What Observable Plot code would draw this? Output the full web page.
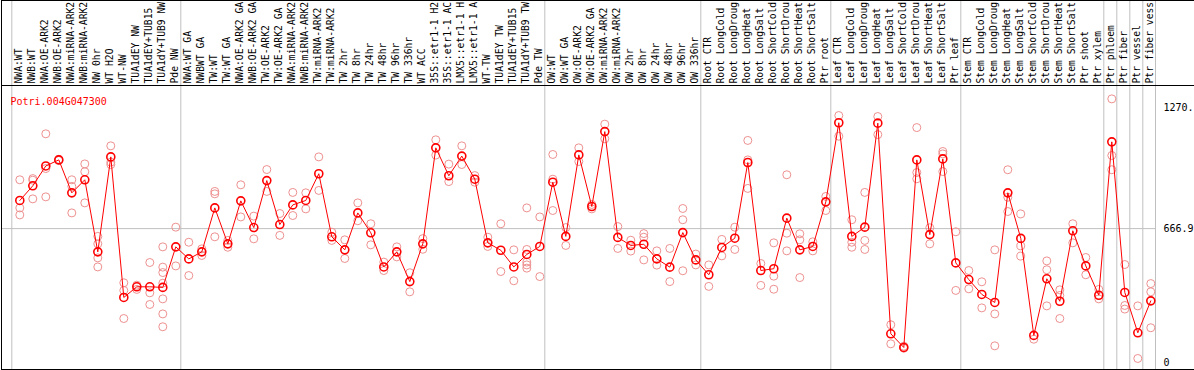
<!DOCTYPE html>
<html>
<head>
<meta charset="utf-8">
<script src="https://cdn.jsdelivr.net/npm/d3@7"></script>
<script src="https://cdn.jsdelivr.net/npm/@observablehq/plot@0.6"></script>
<style>
  html, body { margin: 0; padding: 0; background: white; }
  #chart svg { display: block; overflow: hidden; }
</style>
</head>
<body>
<div id="chart"></div>
<script>
const gene = "Potri.004G047300";

const samples = [
  "NWA:WT","NWB:WT","NWA:OE-ARK2","NWB:OE-ARK2","NWA:miRNA-ARK2","NWB:miRNA-ARK2","NW 0hr","WT H2O","WT-NW","TUA1dEY NW","TUA1dEY+TUB15 NW","TUA1dY+TUB9 NW","Pde NW",
  "NWA:WT GA","NWBWT GA","TW:WT","TW:WT GA","NWA:OE-ARK2 GA","NWB:OE-ARK2 GA","TW:OE-ARK2","TW:OE-ARK2 GA","NWA:miRNA-ARK2 GA","NWB:miRNA-ARK2 GA","TW:miRNA-ARK2","TW:miRNA-ARK2 GA","TW 2hr","TW 8hr","TW 24hr","TW 48hr","TW 96hr","TW 336hr","WT ACC","35S::etr1-1 H2O","35S::etr1-1 ACC","LMX5::etr1-1 H2O","LMX5::etr1-1 ACC","WT-TW","TUA1dEY TW","TUA1dEY+TUB15 TW","TUA1dY+TUB9 TW","Pde TW",
  "OW:WT","OW:WT GA","OW:OE-ARK2","OW:OE-ARK2 GA","OW:miRNA-ARK2","OW:miRNA-ARK2 GA","OW 2hr","OW 8hr","OW 24hr","OW 48hr","OW 96hr","OW 336hr",
  "Root CTR","Root LongCold","Root LongDrought","Root LongHeat","Root LongSalt","Root ShortCold","Root ShortDrought","Root ShortHeat","Root ShortSalt","Ptr root",
  "Leaf CTR","Leaf LongCold","Leaf LongDrought","Leaf LongHeat","Leaf LongSalt","Leaf ShortCold","Leaf ShortDrought","Leaf ShortHeat","Leaf ShortSalt","Ptr leaf",
  "Stem CTR","Stem LongCold","Stem LongDrought","Stem LongHeat","Stem LongSalt","Stem ShortCold","Stem ShortDrought","Stem ShortHeat","Stem ShortSalt","Ptr shoot","Ptr xylem",
  "Ptr phloem","Ptr fiber","Ptr vessel","Ptr fiber vessel"
];

// the header column shows at most this many characters of each sample name
const labelChars = 14;

// index of first sample in each group (group separators)
const groupStarts = [0, 13, 41, 53, 63, 73, 84, 85, 86, 87];

const means = [
  807, 880, 979, 1009, 845, 910, 551, 1024, 324, 377, 377, 374, 576,
  516, 551, 770, 591, 805, 672, 906, 687, 785, 807, 940, 626, 561, 745, 646, 476, 551, 403, 591, 1069, 930, 1028, 913, 596, 559, 476, 538, 578,
  898, 628, 1034, 777, 1150, 623, 583, 589, 516, 475, 647, 511,
  437, 573, 619, 996, 458, 467, 719, 561, 578, 800,
  1194, 628, 674, 1192, 143, 75, 1009, 637, 1014, 496,
  413, 339, 299, 845, 618, 135, 417, 305, 656, 481, 335,
  1099, 349, 148, 307
];

const replicates = [
  [910, 770, 735], [916, 815, 908], [1139, 966, 825], [1012, 1006], [910, 877, 745], [989, 950, 795],
  [628, 591, 521, 476], [1079, 998, 986], [397, 359, 219], [385, 364], [498, 347, 289],
  [576, 475, 448, 395, 317, 242, 178], [674, 481],
  [599, 433], [566, 533], [852, 840, 626], [608, 574], [885, 725], [729, 616], [961, 852], [742, 633],
  [847, 732], [845, 765], [1024, 857], [649, 608], [611, 518], [795, 706], [691, 586], [500, 458],
  [576, 526], [447, 352], [617, 564], [1109, 1033], [988, 901], [1079, 986], [931, 898], [624, 578],
  [691, 453], [561, 407], [770, 563, 500, 486, 470], [725, 428],
  [1036, 913, 757], [672, 583], [1069, 1001], [787, 765], [1187, 1114], [677, 568], [609, 555],
  [642, 624, 511], [556, 485], [568, 403], [767, 711, 457], [540, 486],
  [486, 379], [613, 531], [674, 563], [1106, 1009, 867], [493, 384], [596, 430, 365], [935, 644, 556],
  [641, 611, 423], [601, 556], [827, 757],
  [1230, 1127], [711, 599, 574], [847, 608, 563], [1225, 1135], [188, 93], [81, 71], [1170, 946, 915],
  [671, 591], [1051, 1039, 951], [651, 359],
  [458, 367], [402, 272], [561, 242, 83], [960, 823, 752], [740, 581, 530], [116], [506, 462, 282],
  [362, 334, 219], [691, 596], [523, 437], [364, 317],
  [1313, 1031, 960], [488, 284, 266], [282, 20], [393, 352, 173]
];

const yTickValues = [1270, 666.9, 0];
const yTickLabels = ["1270.", "666.9", "0"];

// tables built from the arrays above
const meanTable = means.map((v, i) => ({i, v}));
const repTable = replicates.flatMap((arr, i) => arr.map(v => ({i, v})));
const labelTable = samples.map((s, i) => ({i, s: s.slice(0, labelChars)}));

const RED = "#ff0000";
const PINK = "#ee9090";
const GRID = "#c0c0c0";

const chart = Plot.plot({
  width: 1194,
  height: 370,
  marginTop: 85,
  marginBottom: 1,
  marginLeft: 1,
  marginRight: 39,
  x: {type: "linear", domain: [0, 87], range: [19.3, 1150.3], axis: null},
  y: {type: "linear", domain: [0, 1270], range: [362, 107], axis: null},
  style: {fontFamily: "'DejaVu Sans Mono', monospace", fontSize: "10px", background: "white", color: "black"},
  marks: [
    // gray outer frame (its right edge is the gray line at the plot's right)
    Plot.frame({stroke: GRID, insetTop: -85}),
    // horizontal grid line
    Plot.ruleY([666.9], {stroke: GRID, strokeWidth: 1}),
    // group separators spanning header and plot
    Plot.ruleX(groupStarts, {x: d => d, dx: -8, stroke: GRID, strokeWidth: 1, insetTop: -85}),
    // black borders
    Plot.frame({stroke: "black", insetRight: -45}),
    Plot.frame({stroke: "black", insetTop: -85, insetRight: -45}),
    // header labels
    Plot.text(labelTable, {
      x: "i", text: "s", frameAnchor: "top", rotate: -90, textAnchor: "start",
      lineAnchor: "middle", dx: -1, dy: -2, fill: "black", fontSize: 9.7
    }),
    // replicate circles
    Plot.dot(repTable, {x: "i", y: "v", r: 4, stroke: PINK, strokeWidth: 1, fill: "none"}),
    // mean line
    Plot.line(meanTable, {x: "i", y: "v", stroke: RED, strokeWidth: 1}),
    // mean circles
    Plot.dot(meanTable, {x: "i", y: "v", r: 4, stroke: RED, strokeWidth: 1.6, fill: "none"}),
    // right axis labels
    Plot.text(yTickValues, {
      y: d => d, text: (d, i) => yTickLabels[i], frameAnchor: "right",
      dx: 8, textAnchor: "start", fill: "black", fontSize: 10
    }),
    // gene name
    Plot.text([gene], {
      frameAnchor: "top-left", text: d => d, dx: 9, dy: 12, textAnchor: "start",
      fill: RED, fontSize: 10
    })
  ]
});

document.getElementById("chart").appendChild(chart);
</script>
</body>
</html>
